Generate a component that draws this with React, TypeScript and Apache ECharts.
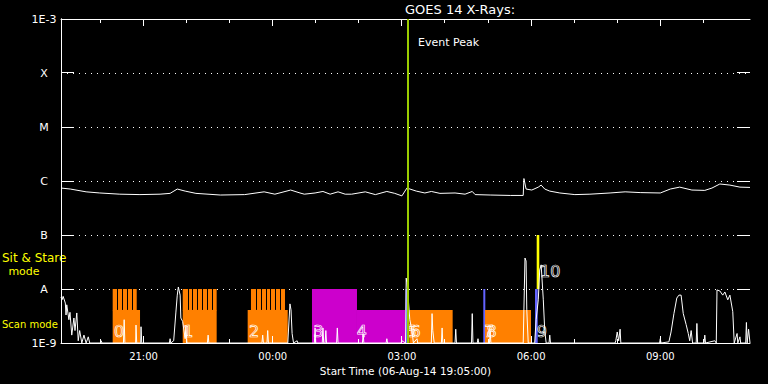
import React, { useEffect, useRef } from 'react';
import * as echarts from 'echarts';

// Time axis: minutes after start time 06-Aug-14 19:05:00
const xMin = 0;
const xMax = 960;
const xMajorTicks = [115, 295, 475, 655, 835];
const xMajorLabels = ['21:00', '00:00', '03:00', '06:00', '09:00'];
const xMinorTicks = [55, 175, 235, 355, 415, 535, 595, 715, 775, 895];

const yMin = 1e-9;
const yMax = 1e-3;
const yTickValues = [1e-9, 1e-8, 1e-7, 1e-6, 1e-5, 1e-4, 1e-3];
const yTickLabels = ['1E-9', 'A', 'B', 'C', 'M', 'X', '1E-3'];

const eventPeakTime = 483;

// GOES 14 long channel (1-8 A) [minutes, W/m^2]
const longWave: [number, number][] = [
  [0, 7.4e-7], [13, 7.1e-7], [35, 6.3e-7], [54, 6.0e-7], [82, 5.7e-7], [110, 5.6e-7], [138, 5.7e-7],
  [152, 5.9e-7], [162, 7.1e-7], [173, 6.5e-7], [188, 5.9e-7], [222, 5.5e-7], [256, 5.6e-7], [283, 6.3e-7],
  [298, 5.7e-7], [320, 6.8e-7], [333, 6.0e-7], [339, 5.7e-7], [354, 6.0e-7], [365, 6.4e-7], [375, 5.7e-7],
  [386, 6.3e-7], [396, 5.7e-7], [405, 5.7e-7], [424, 6.3e-7], [438, 5.6e-7], [454, 6.4e-7], [465, 5.9e-7],
  [475, 5.3e-7], [482, 7.4e-7], [495, 6.5e-7], [507, 6.0e-7], [516, 6.4e-7], [528, 5.9e-7], [549, 6.0e-7],
  [563, 5.7e-7], [573, 6.4e-7], [577, 5.6e-7], [598, 5.5e-7], [626, 5.4e-7], [644, 5.4e-7], [645, 1.11e-6],
  [648, 7.1e-7], [656, 6.8e-7], [665, 7.7e-7], [669, 8.4e-7], [674, 7.1e-7], [681, 6.5e-7], [695, 6.0e-7],
  [716, 5.6e-7], [737, 5.7e-7], [765, 6.0e-7], [786, 6.3e-7], [807, 6.1e-7], [835, 6.0e-7], [849, 7.1e-7],
  [862, 7.7e-7], [879, 6.8e-7], [897, 6.7e-7], [907, 7.4e-7], [918, 8.8e-7], [932, 8.4e-7], [946, 7.7e-7],
  [960, 7.6e-7],
];

// GOES 14 short channel (0.5-4 A) [minutes, W/m^2]
const shortWave: [number, number][] = [
  [0, 7.1e-9], [1.4, 6.3e-9], [3, 7.3e-9], [6, 5.5e-9], [7, 3.3e-9], [8, 5.1e-9], [11, 2.7e-9], [12.5, 3.7e-9],
  [15, 1.4e-9], [18, 2.9e-9], [19.5, 1.7e-9], [22, 3.6e-9], [24, 1.1e-9], [26, 1.7e-9], [29, 1e-9], [32, 1.4e-9],
  [35, 1e-9], [38, 1.3e-9], [40, 1e-9], [55, 1e-9], [56, 1.1e-9], [57, 1e-9], [87, 1e-9], [88, 2.7e-9], [89, 1e-9],
  [104, 1e-9], [104.5, 2.15e-9], [105.5, 1e-9], [111, 1e-9], [111.5, 2.0e-9], [112.5, 1e-9], [151, 1e-9],
  [152, 1.2e-9], [153, 1e-9], [157, 1.1e-9], [160, 3.6e-9], [162, 7.7e-9], [163.5, 1.09e-8], [166, 7.7e-9],
  [167, 2.9e-9], [169.5, 2.5e-9], [173, 1.2e-9], [174, 2.0e-9], [175.5, 1e-9], [204, 1e-9], [205, 1.4e-9],
  [206, 1e-9], [280, 1e-9], [281, 1.4e-9], [282, 1e-9], [287, 1e-9], [288, 1.7e-9], [289, 1e-9], [316, 1e-9],
  [319, 5.3e-9], [320.5, 4.1e-9], [322, 1.5e-9], [324, 1e-9], [329, 1.1e-9], [330, 1e-9], [353, 1e-9],
  [354, 1.9e-9], [355, 1e-9], [364, 1e-9], [365, 1.9e-9], [366, 1e-9], [368, 1e-9], [369, 1.7e-9], [370, 1e-9],
  [384, 1e-9], [385, 1.9e-9], [386, 1e-9], [420, 1e-9], [421, 1.5e-9], [422, 1e-9], [453, 1e-9], [454, 1.2e-9],
  [455, 1e-9], [474, 1e-9], [475, 1.1e-9], [480, 1e-9], [481, 1.59e-8], [482, 1.3e-8], [483.5, 7.7e-9],
  [486, 2.7e-9], [489, 1.7e-9], [491, 1e-9], [496, 1.2e-9], [497, 1e-9], [516, 1e-9], [517, 3.5e-9],
  [518, 1.7e-9], [520, 1e-9], [530, 1e-9], [531, 1.9e-9], [532, 1e-9], [549, 1e-9], [550, 1.8e-9], [551, 1e-9],
  [572, 1e-9], [573, 3.5e-9], [574, 1e-9], [580, 1e-9], [581, 1.2e-9], [582, 1e-9], [597, 1e-9], [598, 1.6e-9],
  [599, 1e-9], [644, 1e-9], [646.5, 3.75e-8], [648, 3.3e-8], [649, 4.1e-9], [651, 1e-9], [660, 1e-9],
  [662, 2.7e-9], [665, 6.3e-9], [667, 2.25e-8], [669, 2.8e-8], [672, 6.3e-9], [674, 1.7e-9], [676, 1e-9],
  [680, 1e-9], [681, 1.4e-9], [682, 1e-9], [772, 1e-9], [773, 1.1e-9], [775, 1.6e-9], [777, 1.1e-9],
  [779, 1.8e-9], [780, 1e-9], [834, 1e-9], [835, 1.2e-9], [836, 1e-9], [847, 1.05e-9], [850, 1.6e-9],
  [854, 3.5e-9], [858, 6.8e-9], [861, 7.7e-9], [864, 7.7e-9], [867, 3.5e-9], [871, 2.2e-9], [874, 1.5e-9],
  [876, 1.1e-9], [878, 1.7e-9], [880, 1e-9], [885, 1e-9], [886, 2.3e-9], [887, 1e-9], [896, 1e-9],
  [897, 1.4e-9], [898, 1e-9], [911, 1.1e-9], [913, 1e-9], [914, 9.6e-9], [918, 9.2e-9], [922, 7.7e-9],
  [925, 8.8e-9], [929, 6.3e-9], [932, 7.7e-9], [936, 3.8e-9], [938, 1e-9], [942, 1.5e-9], [943, 1e-9],
  [946, 1.3e-9], [947, 1e-9], [954, 1e-9], [955, 2.4e-9], [956, 1e-9], [958, 1.8e-9], [960, 1e-9],
];

// Observation blocks [start, end] minutes, top / bottom flux level, colour key
const blockStart = [72.0, 169.6, 260.1, 349.7, 412.4, 480.0, 485.3, 588.4, 590.8, 660.4, 662.8];
const blockEnd = [110.1, 216.9, 315.9, 412.4, 479.3, 481.2, 545.7, 591.2, 654.9, 664.2, 666.4];
const blockTop = [4.1e-9, 4.1e-9, 4.1e-9, 1e-8, 4.1e-9, 1e-8, 4.1e-9, 1e-8, 4.1e-9, 1e-8, 1e-7];
const blockBottom = [1e-9, 1e-9, 1e-9, 1e-9, 1e-9, 1e-9, 1e-9, 1e-9, 1e-9, 1e-9, 1e-8];
const blockKind = ['scan', 'scan', 'scan', 'stare', 'stare', 'line', 'scan', 'line', 'scan', 'line', 'sit'];

// Raster step combs of the scan blocks
const rasterStart = [72.0, 169.6, 264.7];
const rasterEnd = [105.5, 216.9, 312.1];
const rasterSteps = [5, 7, 7];
const rasterTop = 1e-8;
const rasterBottom = 4.1e-9;

// Observation number labels
const obsLabel = ['0', '1', '2', '3', '4', '5', '6', '7', '8', '9', '10'];
const obsLabelTime = [73.8, 170.4, 262, 351.5, 412, 481.5, 487, 589.5, 593, 662.8, 667.4];
const obsLabelFlux = [1.6e-9, 1.6e-9, 1.6e-9, 1.6e-9, 1.6e-9, 1.6e-9, 1.6e-9, 1.6e-9, 1.6e-9, 1.6e-9, 2.1e-8];

const kindColor: Record<string, string> = {
  scan: '#ff8000',
  stare: '#cc00cc',
  line: '#6464ff',
  sit: '#ffff00',
};

const FONT = 'DejaVu Sans';

export default function App() {
  const ref = useRef<HTMLDivElement>(null);

  useEffect(() => {
    document.body.style.margin = '0';
    document.body.style.background = '#000';
    const chart = echarts.init(ref.current!, undefined, { renderer: 'svg' });
    const yFmt = (v: number) => {
      const i = yTickValues.findIndex((t) => Math.abs(Math.log10(t) - Math.log10(v)) < 1e-6);
      return i >= 0 ? yTickLabels[i] : '';
    };
    const xFmt = (v: number) => {
      const i = xMajorTicks.indexOf(Math.round(v));
      return i >= 0 ? xMajorLabels[i] : '';
    };
    const white = '#ffffff';
    const snap = (v: number) => Math.round(v - 0.5) + 0.5;

    const textGraphics: any[] = [
      { id: 'title', type: 'text', left: 405, top: 3, style: { text: 'GOES 14 X-Rays:', fill: white, font: `13px "${FONT}"`, textAlign: 'center' } },
      { id: 'peak', type: 'text', x: 418, y: 42, style: { text: 'Event Peak', fill: white, font: `11px "${FONT}"`, textVerticalAlign: 'middle' } },
      { id: 'sit', type: 'text', x: 2, y: 258, style: { text: 'Sit & Stare', fill: '#ffff00', font: `12px "${FONT}"`, textVerticalAlign: 'middle' } },
      { id: 'mode', type: 'text', x: 24, y: 271, style: { text: 'mode', fill: '#ffff00', font: `11px "${FONT}"`, textAlign: 'center', textVerticalAlign: 'middle' } },
      { id: 'scan', type: 'text', x: 2, y: 324, style: { text: 'Scan mode', fill: '#ffff00', font: `10px "${FONT}"`, textVerticalAlign: 'middle' } },
    ];

    const option: any = {
      animation: false,
      backgroundColor: '#000000',
      textStyle: { fontFamily: FONT },
      grid: { left: 61, right: 18, top: 19, bottom: 41, containLabel: false },
      xAxis: [
        {
          type: 'value', position: 'bottom', min: xMin, max: xMax,
          axisLine: { show: true, lineStyle: { color: white, width: 1 } },
          axisTick: { show: false },
          axisLabel: { show: true, customValues: xMajorTicks, formatter: xFmt, color: white, fontSize: 10, margin: 8, fontFamily: FONT },
          splitLine: { show: false },
          name: 'Start Time (06-Aug-14 19:05:00)', nameLocation: 'middle', nameGap: 21,
          nameTextStyle: { color: white, fontSize: 10.5, fontFamily: FONT },
        },
        {
          type: 'value', position: 'top', min: xMin, max: xMax,
          axisLine: { show: true, lineStyle: { color: white, width: 1 } },
          axisTick: { show: false },
          axisLabel: { show: false },
          splitLine: { show: false },
        },
      ],
      yAxis: [
        {
          type: 'log', logBase: 10, position: 'left', min: yMin, max: yMax,
          axisLine: { show: true, lineStyle: { color: white, width: 1 } },
          axisTick: { show: false },
          axisLabel: { show: true, formatter: yFmt, color: white, fontSize: 11, margin: 17, align: 'center', fontFamily: FONT },
          minorTick: { show: false },
          splitLine: { show: true, lineStyle: { color: white, width: 1, type: [1, 5] } },
        },
        {
          type: 'log', logBase: 10, position: 'right', min: yMin, max: yMax,
          axisLine: { show: true, lineStyle: { color: white, width: 1 } },
          axisTick: { show: false },
          axisLabel: { show: false },
          splitLine: { show: false },
        },
      ],
      graphic: textGraphics,
      series: [
        {
          type: 'custom', name: 'blocks', xAxisIndex: 0, yAxisIndex: 0, z: 1, clip: true, silent: true,
          encode: { x: [0, 1], y: [2, 3] },
          data: blockStart.map((s, i) => [s, blockEnd[i], blockTop[i], blockBottom[i], i]),
          renderItem: (params: any, api: any) => {
            const i = api.value(4);
            const p0 = api.coord([api.value(0), api.value(2)]);
            const p1 = api.coord([api.value(1), api.value(3)]);
            const w = Math.max(p1[0] - p0[0], 1.5);
            return {
              type: 'rect',
              shape: { x: p0[0], y: p0[1], width: w, height: p1[1] - p0[1] },
              style: { fill: kindColor[blockKind[i]] },
            };
          },
        },
        {
          type: 'custom', name: 'rasters', xAxisIndex: 0, yAxisIndex: 0, z: 1, clip: true, silent: true,
          encode: { x: [0, 1], y: [3, 4] },
          data: rasterStart.map((s, i) => [s, rasterEnd[i], rasterSteps[i], rasterTop, rasterBottom]),
          renderItem: (params: any, api: any) => {
            const s = api.value(0), e = api.value(1), n = api.value(2);
            const p0 = api.coord([s, api.value(3)]);
            const p1 = api.coord([e, api.value(4)]);
            const children: any[] = [
              { type: 'rect', shape: { x: p0[0], y: p0[1], width: p1[0] - p0[0], height: p1[1] - p0[1] + 0.5 }, style: { fill: kindColor.scan } },
            ];
            for (let k = 1; k < n; k++) {
              const xx = Math.round(p0[0] + (k * (p1[0] - p0[0])) / n) + 0.5;
              children.push({ type: 'line', shape: { x1: xx, y1: p0[1], x2: xx, y2: p1[1] }, style: { stroke: '#000', lineWidth: 1 } });
            }
            return { type: 'group', children };
          },
        },
        {
          type: 'line', name: 'short', xAxisIndex: 0, yAxisIndex: 0, z: 2, silent: true,
          data: shortWave, showSymbol: false, symbol: 'none',
          lineStyle: { color: white, width: 1 },
        },
        {
          type: 'line', name: 'long', xAxisIndex: 0, yAxisIndex: 0, z: 2, silent: true,
          data: longWave, showSymbol: false, symbol: 'none',
          lineStyle: { color: white, width: 1 },
          markLine: {
            silent: true, symbol: ['none', 'none'], label: { show: false },
            lineStyle: { color: '#9acd00', width: 2, type: 'solid' },
            data: [{ xAxis: eventPeakTime }],
          },
        },
        {
          type: 'custom', name: 'labels', xAxisIndex: 0, yAxisIndex: 0, z: 4, clip: false, silent: true,
          encode: { x: 0, y: 1 },
          data: obsLabelTime.map((t, i) => [t, obsLabelFlux[i], i]),
          renderItem: (params: any, api: any) => {
            const i = api.value(2);
            const p = api.coord([api.value(0), api.value(1)]);
            return {
              type: 'text', x: p[0], y: p[1],
              style: {
                text: obsLabel[i], fill: 'rgba(0,0,0,0)', stroke: '#ffffff', lineWidth: 0.7,
                font: `16px "${FONT}"`, align: 'left', verticalAlign: 'middle',
              },
            };
          },
        },
      ],
    };
    chart.setOption(option);

    // Axis ticks placed through the chart's own scales (inward, IDL style)
    const toPx = (t: number, v: number) => chart.convertToPixel({ gridIndex: 0 }, [t, v]) as number[];
    const tickLines: any[] = [];
    const st = { stroke: white, lineWidth: 1 };
    yTickValues.forEach((v, i) => {
      const pl = toPx(xMin, v);
      const pr = toPx(xMax, v);
      const y = snap(pl[1]);
      tickLines.push({ id: `yl${i}`, type: 'line', z: 100, silent: true, shape: { x1: pl[0], y1: y, x2: pl[0] + 13, y2: y }, style: { ...st } });
      tickLines.push({ id: `yr${i}`, type: 'line', z: 100, silent: true, shape: { x1: pr[0] - 13, y1: y, x2: pr[0], y2: y }, style: { ...st } });
    });
    const addX = (t: number, len: number, key: string) => {
      const pb = toPx(t, yMin);
      const pt = toPx(t, yMax);
      const x = snap(pb[0]);
      tickLines.push({ id: `xb${key}`, type: 'line', z: 100, silent: true, shape: { x1: x, y1: pb[1], x2: x, y2: pb[1] - len }, style: { ...st } });
      tickLines.push({ id: `xt${key}`, type: 'line', z: 100, silent: true, shape: { x1: x, y1: pt[1], x2: x, y2: pt[1] + len }, style: { ...st } });
    };
    xMajorTicks.forEach((t, i) => addX(t, 7, `M${i}`));
    xMinorTicks.forEach((t, i) => addX(t, 4, `m${i}`));
    chart.setOption({ graphic: [...textGraphics, ...tickLines] });

    return () => chart.dispose();
  }, []);

  return <div ref={ref} style={{ position: 'absolute', left: 0, top: 0, width: 768, height: 384 }} />;
}
